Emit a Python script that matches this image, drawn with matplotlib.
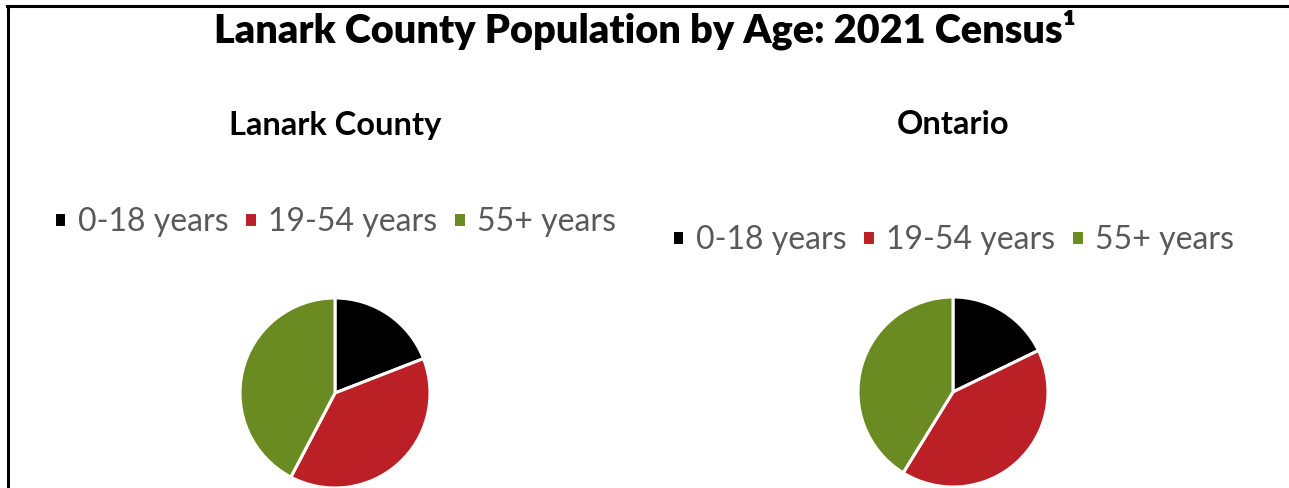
import matplotlib.pyplot as plt
from matplotlib.lines import Line2D

plt.rcParams['font.family'] = ['Lato', 'DejaVu Sans']

age_groups = ['0-18 years', '19-54 years', '55+ years']
colors = ['#000000', '#BA2026', '#6A8A22']

lanark_share = [19.1, 38.6, 42.3]
ontario_share = [17.8, 41.0, 41.2]

W, H = 1289, 488
fig = plt.figure(figsize=(W / 100, H / 100), dpi=100)


def px_axes(cx, cy, r):
    # axes box in pixel coords (top-down y) -> figure fraction
    return fig.add_axes([(cx - r) / W, (H - cy - r) / H, 2 * r / W, 2 * r / H])


def draw_pie(values, cx, cy, r, name, name_y, legend_y):
    ax = px_axes(cx, cy, r)
    wedges, _ = ax.pie(values, colors=colors, startangle=90, counterclock=False,
                       wedgeprops=dict(edgecolor='white', linewidth=2.2))
    ax.set_xlim(-1, 1)
    ax.set_ylim(-1, 1)
    ax.set_aspect('equal')
    fig.text(cx / W, 1 - name_y / H, name, ha='center', va='center',
             fontsize=23.5, fontweight='bold', color='#000000')
    fig.legend(wedges, age_groups, loc='center', bbox_to_anchor=(cx / W, 1 - legend_y / H),
               ncol=3, frameon=False, fontsize=23, labelcolor='#595959',
               handlelength=0.4, handleheight=0.3, handletextpad=0.35,
               columnspacing=0.5)


draw_pie(lanark_share, 335, 393, 95, 'Lanark County', 126, 222)
draw_pie(ontario_share, 953, 392, 95, 'Ontario', 124, 240)

fig.text(645 / W, 1 - 30 / H, 'Lanark County Population by Age: 2021 Census\u00b9',
         ha='center', va='center', fontsize=28.5, fontweight='heavy')

# frame lines (top and left)
fig.add_artist(Line2D([7 / W, 1], [1 - 6 / H, 1 - 6 / H], color='black', lw=2.2))
fig.add_artist(Line2D([7.5 / W, 7.5 / W], [0, 1 - 6 / H], color='black', lw=2.2))

fig.savefig('out.png', dpi=100)
